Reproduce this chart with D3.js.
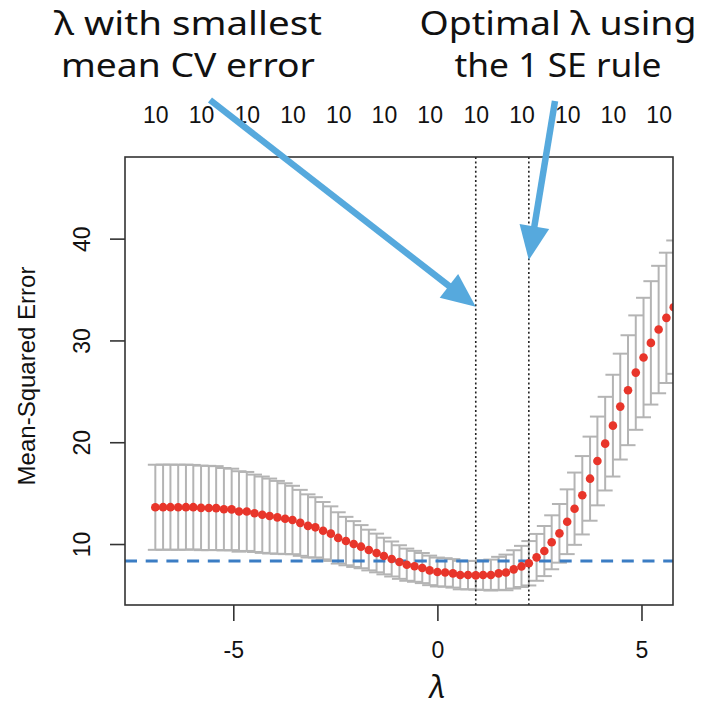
<!DOCTYPE html>
<html><head><meta charset="utf-8">
<script src="https://cdn.jsdelivr.net/npm/d3@7"></script>
<style>html,body{margin:0;padding:0;background:#fff;} svg{display:block;}</style>
</head><body>
<svg id="chart" width="706" height="709"></svg>
<script>
// ---- data ----
const logLambda = [-6.91,-6.72,-6.54,-6.35,-6.16,-5.98,-5.79,-5.60,-5.42,-5.23,
  -5.04,-4.86,-4.67,-4.48,-4.29,-4.11,-3.92,-3.73,-3.55,-3.36,
  -3.17,-2.99,-2.80,-2.61,-2.43,-2.24,-2.05,-1.87,-1.68,-1.49,
  -1.31,-1.12,-0.93,-0.75,-0.56,-0.37,-0.19,0.00,0.19,0.38,
  0.56,0.75,0.94,1.12,1.31,1.50,1.68,1.87,2.06,2.24,
  2.43,2.62,2.80,2.99,3.18,3.36,3.55,3.74,3.92,4.11,
  4.30,4.48,4.67,4.86,5.05,5.23,5.42,5.61,5.79];
const cvMean = [13.61,13.62,13.62,13.61,13.62,13.62,13.55,13.54,13.53,13.42,
  13.40,13.20,13.20,13.02,12.88,12.75,12.62,12.49,12.36,12.08,
  11.78,11.64,11.31,11.02,10.60,10.29,10.00,9.74,9.41,9.12,
  8.82,8.53,8.23,7.97,7.81,7.64,7.41,7.25,7.21,7.12,
  6.95,6.95,6.92,6.95,6.95,7.12,7.21,7.51,7.80,8.11,
  8.69,9.31,10.17,11.05,12.19,13.47,14.79,16.42,18.16,19.86,
  21.63,23.50,25.11,26.84,28.32,29.76,31.07,32.22,33.27];
const cvSE = [4.18,4.18,4.18,4.18,4.18,4.15,4.15,4.14,4.12,4.05,
  4.00,3.95,3.88,3.80,3.75,3.68,3.58,3.48,3.36,3.24,
  3.10,2.96,2.82,2.68,2.52,2.38,2.25,2.12,2.00,1.90,
  1.80,1.72,1.65,1.58,1.52,1.48,1.45,1.42,1.40,1.40,
  1.40,1.40,1.41,1.45,1.52,1.62,1.75,1.88,2.02,2.18,
  2.30,2.46,2.65,2.88,3.18,3.55,3.85,4.13,4.36,4.60,
  5.00,5.20,5.40,5.62,5.87,6.06,6.26,6.40,6.55];
const topTickLambda = [-6.91,-5.79,-4.67,-3.55,-2.43,-1.31,-0.19,0.94,2.06,3.18,4.30,5.42];
const topTickLabels = ["10","10","10","10","10","10","10","10","10","10","10","10"];
const xTicks = [-5, 0, 5];
const yTicks = [10, 20, 30, 40];
const lambdaMin = 0.94;
const lambda1se = 2.24;
const seThreshold = 8.33;
const leftNote = ["λ with smallest", "mean CV error"];
const rightNote = ["Optimal λ using", "the 1 SE rule"];
const yTitle = "Mean-Squared Error";
const xTitle = "λ";

// ---- layout ----
const L = 125, R = 673, T = 157, B = 605;
const svg = d3.select("#chart");
const x = d3.scaleLinear().domain([-7.653, 5.772]).range([L, R]);
const y = d3.scaleLinear().domain([4.01, 48.02]).range([B, T]);
const axisFont = "'Liberation Sans', Arial, Helvetica, sans-serif";
const noteFont = "'Noto Sans', 'Open Sans', sans-serif";

svg.append("rect").attr("width", 706).attr("height", 709).attr("fill", "#fff");

svg.append("defs").append("clipPath").attr("id", "plotclip")
  .append("rect").attr("x", L).attr("y", T).attr("width", R - L).attr("height", B - T);

const data = logLambda.map((l, i) => ({l, m: cvMean[i], se: cvSE[i]}));
const plot = svg.append("g").attr("clip-path", "url(#plotclip)");

// error bars
const capHalf = 7.5;
const barColor = "#b4b4b4";
const bars = plot.append("g").attr("stroke", barColor).attr("stroke-width", 2).attr("fill", "none");
bars.selectAll("line.v").data(data).join("line").attr("class", "v")
  .attr("x1", d => x(d.l)).attr("x2", d => x(d.l))
  .attr("y1", d => y(d.m + d.se)).attr("y2", d => y(d.m - d.se));
bars.selectAll("line.u").data(data).join("line").attr("class", "u")
  .attr("x1", d => x(d.l) - capHalf).attr("x2", d => x(d.l) + capHalf)
  .attr("y1", d => y(d.m + d.se)).attr("y2", d => y(d.m + d.se));
bars.selectAll("line.lo").data(data).join("line").attr("class", "lo")
  .attr("x1", d => x(d.l) - capHalf).attr("x2", d => x(d.l) + capHalf)
  .attr("y1", d => y(d.m - d.se)).attr("y2", d => y(d.m - d.se));

// dotted vertical lines
plot.selectAll("line.vl").data([lambdaMin, lambda1se]).join("line").attr("class", "vl")
  .attr("x1", d => x(d)).attr("x2", d => x(d)).attr("y1", T).attr("y2", B)
  .attr("stroke", "#222").attr("stroke-width", 1.6).attr("stroke-dasharray", "2,2.6");

// blue dashed threshold
plot.append("line").attr("x1", L).attr("x2", R).attr("y1", y(seThreshold)).attr("y2", y(seThreshold))
  .attr("stroke", "#3b7dc4").attr("stroke-width", 3).attr("stroke-dasharray", "12,8.7");

// points
plot.selectAll("circle").data(data).join("circle")
  .attr("cx", d => x(d.l)).attr("cy", d => y(d.m)).attr("r", 4.3)
  .attr("fill", "#e8352a");

// box
svg.append("rect").attr("x", L).attr("y", T).attr("width", R - L).attr("height", B - T)
  .attr("fill", "none").attr("stroke", "#333").attr("stroke-width", 1.6);

// bottom axis
const gx = svg.append("g").attr("transform", `translate(0,${B})`)
  .call(d3.axisBottom(x).tickValues(xTicks).tickSize(16).tickFormat(d => String(d)));
gx.select(".domain").remove();
gx.selectAll(".tick line").attr("stroke", "#333").attr("stroke-width", 1.6);
gx.selectAll(".tick text").attr("y", 53).attr("dy", 0)
  .style("font-family", axisFont).style("font-size", "23px").attr("fill", "#111");

// left axis
const gy = svg.append("g").attr("transform", `translate(${L},0)`)
  .call(d3.axisLeft(y).tickValues(yTicks).tickSize(15));
gy.select(".domain").remove();
gy.selectAll(".tick line").attr("stroke", "#333").attr("stroke-width", 1.6);
gy.selectAll(".tick text").attr("transform", "rotate(-90)").attr("x", 0).attr("y", -35).attr("dy", 0)
  .attr("text-anchor", "middle")
  .style("font-family", axisFont).style("font-size", "23px").attr("fill", "#111");

// top axis (number of nonzero coefficients)
const gt = svg.append("g").attr("transform", `translate(0,${T})`)
  .call(d3.axisTop(x).tickValues(topTickLambda).tickSize(0).tickFormat((d, i) => topTickLabels[i]));
gt.select(".domain").remove();
gt.selectAll(".tick text").attr("y", -34).attr("dy", 0)
  .style("font-family", axisFont).style("font-size", "23px").attr("fill", "#111");

// axis titles
svg.append("text").attr("transform", `translate(35,${(T + B) / 2 - 5}) rotate(-90)`)
  .attr("text-anchor", "middle").style("font-family", axisFont).style("font-size", "24px")
  .attr("fill", "#111").text(yTitle);
svg.append("text").attr("x", x(0)).attr("y", 698).attr("text-anchor", "middle")
  .style("font-family", noteFont).style("font-size", "31px").style("font-style", "italic")
  .attr("fill", "#111").text(xTitle);

// annotation text
const noteW = [[268, 254], [277, 207]];
[[leftNote, 188], [rightNote, 558]].forEach(([lines, cx], k) => {
  lines.forEach((t, j) => {
    svg.append("text").attr("x", cx).attr("y", j === 0 ? 35 : 77)
      .attr("text-anchor", "middle").style("font-family", noteFont).style("font-size", "33px")
      .attr("textLength", noteW[k][j]).attr("lengthAdjust", "spacingAndGlyphs")
      .attr("fill", "#111").text(t);
  });
});

// arrows
const arrowColor = "#56a9dd";
function arrow(x0, y0, x1, y1) {
  const dx = x1 - x0, dy = y1 - y0, len = Math.hypot(dx, dy);
  const ux = dx / len, uy = dy / len, hl = 34, hw = 15;
  const bx = x1 - ux * hl, by = y1 - uy * hl;
  svg.append("line").attr("x1", x0).attr("y1", y0).attr("x2", bx + ux * 2).attr("y2", by + uy * 2)
    .attr("stroke", arrowColor).attr("stroke-width", 6.5);
  svg.append("path")
    .attr("d", `M${x1},${y1}L${bx - uy * hw},${by + ux * hw}L${bx + uy * hw},${by - ux * hw}Z`)
    .attr("fill", arrowColor);
}
arrow(210, 100, x(lambdaMin), y(33.3));
arrow(555, 101, x(lambda1se), y(37.9));
</script>
</body></html>
